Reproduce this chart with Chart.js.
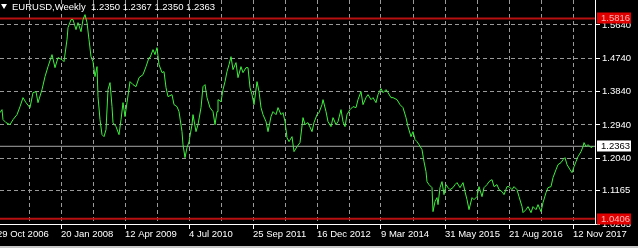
<!DOCTYPE html>
<html lang="en">
<head>
<meta charset="UTF-8">
<title>EURUSD Weekly</title>
<style>
  html, body { margin: 0; padding: 0; background: #c8c8c8; }
  #wrap { position: relative; width: 638px; height: 246px; background: #000; }
  #hdr { position: absolute; left: 1px; top: 1px; color: #fff; font: 9.5px 'Liberation Sans', sans-serif; white-space: pre; line-height: 11px; }
  #hdr .tri { display: inline-block; width: 0; height: 0; border-left: 3px solid transparent; border-right: 3px solid transparent; border-top: 5px solid #fff; margin-right: 5px; vertical-align: 1px; }
</style>
<script src="https://cdn.jsdelivr.net/npm/chart.js"></script>
</head>
<body>
<div id="wrap">
  <canvas id="eurusd" width="638" height="246"></canvas>
  <div id="hdr"></div>
</div>
<script>
// header of the chart window
const symbol = "EURUSD";
const period = "Weekly";
const lastBar = [1.2350, 1.2367, 1.2350, 1.2363]; // open high low close

// weeks counted from 29 Oct 2006, one weekly close each
const weeks = [
  3,5,6,9,13,16,20,23,26,29,33,36,39,41,45,48,51,55,58,61,65,67,70,71,74,76,79,81,84,86,
  88,90,92,94,96,98,100,101,103,105,107,109,111,113,115,116,119,122,124,126,128,130,133,136,139,142,146,149,152,
  153,156,158,160,162,165,167,169,171,175,177,180,182,185,186,188,190,192,195,196,199,201,204,206,208,210,213,216,218,220,
  221,224,226,228,230,232,234,236,239,241,244,246,249,251,253,255,257,260,262,264,266,269,271,274,276,279,281,284,286,288,
  290,292,295,297,300,
  303,306,308,311,315,317,320,322,325,326,329,331,334,336,339,341,344,346,348,350,353,356,359,361,364,366,369,371,374,376,
  379,381,384,386,389,391,394,396,400,403,406,409,411,414,416,418,420,422,425,427,429,430,432,435,436,438,440,441,443,445,
  447,449,451,
  453,456,458,460,463,466,468,470,472,475,477,480,482,485,487,490,492,495,497,500,502,505,507,510,512,515,517,520,522,525,
  526,529,531,534,536,539,541,544,546,549,551,554,556,559,561,564,566,568,570,573,575,577,579,581,584,586,587,589,591,594,
  596
];
const closes = [
  1.3272,1.3353,1.3083,1.3002,1.2948,1.3083,1.3218,1.3434,1.3677,1.3542,1.3407,1.3812,1.3839,1.3542,1.3893,1.4244,1.4514,1.4838,1.4487,1.4757,1.4703,1.4649,1.5243,1.5567,1.5783,1.5783,1.5513,1.5702,1.5459,1.5783,
  1.5918,1.5702,1.5243,1.4784,1.4649,1.4244,1.4514,1.3704,1.3083,1.2678,1.2624,1.2813,1.3893,1.4082,1.3434,1.3002,1.2894,1.2678,1.3083,1.3542,1.3164,1.3542,1.4109,1.4028,1.3974,1.4217,1.4298,1.4514,1.4757,
  1.4757,1.4973,1.4838,1.5027,1.4568,1.4352,1.4379,1.3947,1.3704,1.3758,1.3488,1.3434,1.3299,1.2759,1.2408,1.2057,1.2327,1.2489,1.2948,1.3218,1.2759,1.2948,1.3407,1.3974,1.4028,1.3677,1.3407,1.3299,1.2948,1.3299,
  1.3623,1.3569,1.3893,1.4109,1.4379,1.4568,1.4784,1.4433,1.4622,1.4217,1.4514,1.4352,1.4487,1.4487,1.3947,1.3758,1.3488,1.4109,1.3839,1.3407,1.3218,1.3029,1.2759,1.3164,1.3299,1.3218,1.3407,1.3218,1.3272,1.3029,
  1.2597,1.2489,1.2624,1.2219,1.2354,
  1.2462,1.3137,1.2948,1.3002,1.2759,1.3002,1.3218,1.3272,1.3488,1.3623,1.3299,1.3029,1.2894,1.3137,1.2948,1.3029,1.3353,1.3029,1.2894,1.3218,1.3353,1.3434,1.3407,1.3623,1.3839,1.3488,1.3677,1.3758,1.3623,1.3677,
  1.3542,1.3758,1.3920,1.3812,1.3893,1.3812,1.3677,1.3677,1.3623,1.3488,1.3407,1.3137,1.2894,1.2624,1.2759,1.2543,1.2489,1.2408,1.2273,1.1949,1.1679,1.1409,1.1328,1.1247,1.0599,1.0869,1.0977,1.0788,1.1247,1.1409,
  1.1058,1.1328,1.1247,
  1.1193,1.1247,1.1328,1.1382,1.1247,1.1382,1.1139,1.0923,1.0653,1.0977,1.0923,1.1004,1.1274,1.1004,1.1247,1.1328,1.1409,1.1463,1.1274,1.1328,1.1193,1.1139,1.1058,1.1274,1.1274,1.1193,1.1274,1.1193,1.1004,1.0734,
  1.0572,1.0653,1.0734,1.0572,1.0734,1.0653,1.0788,1.0599,1.0842,1.1112,1.1247,1.1274,1.1517,1.1733,1.1868,1.1922,1.2003,1.2057,1.1868,1.1733,1.1652,1.1814,1.1949,1.2084,1.2219,1.2354,1.2462,1.2354,1.2408,1.2327,
  1.2363
];

// axis labels
const dateLabels = ["29 Oct 2006","20 Jan 2008","12 Apr 2009","4 Jul 2010","25 Sep 2011",
                    "16 Dec 2012","9 Mar 2014","31 May 2015","21 Aug 2016","12 Nov 2017"];
const priceTicks = [1.5640, 1.4740, 1.3840, 1.2940, 1.2040, 1.1165, 1.0265];

// horizontal lines on the chart
const highLine = 1.5816;
const lowLine = 1.0406;
const bidLine = 1.2363;

document.getElementById("hdr").innerHTML =
  '<span class="tri"></span>' + symbol + "," + period + "  " + lastBar.map(v => v.toFixed(4)).join(" ");

const X_MIN = 3, X_MAX = 598;
const flat = v => [{x: X_MIN, y: v}, {x: X_MAX, y: v}];
const gridCol = "#9a9a9a";
const font = {family: "'Liberation Sans', sans-serif", size: 9.5};

const priceBoxes = {
  id: "priceBoxes",
  afterDraw(chart) {
    const ctx = chart.ctx, y = chart.scales.y;
    const boxes = [[highLine, "#e00000", "#ffb4b4"], [bidLine, "#ffffff", "#000000"], [lowLine, "#e00000", "#ffb4b4"]];
    ctx.save();
    ctx.font = "9.5px 'Liberation Sans', sans-serif";
    ctx.textBaseline = "middle";
    boxes.forEach(([v, bg, fg]) => {
      const py = Math.round(y.getPixelForValue(v));
      ctx.fillStyle = bg;
      ctx.fillRect(597, py - 5.5, 34, 11);
      ctx.fillStyle = fg;
      ctx.fillText(v.toFixed(4), 601, py + 0.5);
    });
    ctx.restore();
  }
};

new Chart(document.getElementById("eurusd"), {
  type: "line",
  data: {
    datasets: [
      {data: weeks.map((w, i) => ({x: w, y: closes[i]})), borderColor: "#3cf03c", borderWidth: 1},
      {data: flat(bidLine), borderColor: "#a8a8a8", borderWidth: 1},
      {data: flat(highLine), borderColor: "#b81010", borderWidth: 2},
      {data: flat(lowLine), borderColor: "#b81010", borderWidth: 2}
    ]
  },
  options: {
    responsive: false,
    animation: false,
    devicePixelRatio: 1,
    layout: {padding: 0},
    elements: {point: {radius: 0}, line: {tension: 0}},
    plugins: {legend: {display: false}, tooltip: {enabled: false}},
    scales: {
      x: {
        type: "linear", min: X_MIN, max: X_MAX,
        afterBuildTicks: s => { s.ticks = []; for (let w = 0; w <= X_MAX; w += 32) s.ticks.push({value: w}); },
        afterFit: s => { s.height = 22; s.paddingLeft = 0; s.paddingRight = 0; },
        grid: {color: gridCol, tickLength: 5, tickColor: c => (c.tick && c.tick.value % 64 === 0) ? "#ffffff" : "rgba(0,0,0,0)"},
        border: {color: "#ffffff", dash: [4, 3]},
        ticks: {color: "#ffffff", font, align: "start", padding: 0, autoSkip: false, maxRotation: 0,
                callback: v => v % 64 === 0 ? dateLabels[v / 64] : ""}
      },
      y: {
        position: "right", min: 1.0265, max: 1.6313,
        afterBuildTicks: s => { s.ticks = priceTicks.map(v => ({value: v})); },
        afterFit: s => { s.width = 43; s.paddingTop = 0; s.paddingBottom = 0; },
        grid: {color: gridCol, tickLength: 5, tickColor: "#ffffff"},
        border: {color: "#ffffff", dash: [4, 3]},
        ticks: {color: "#ffffff", font, padding: 2, autoSkip: false, callback: v => v.toFixed(4)}
      }
    }
  },
  plugins: [priceBoxes]
});
</script>
</body>
</html>
